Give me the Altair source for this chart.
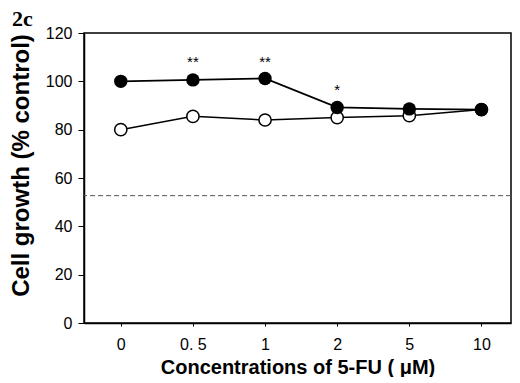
import json
import altair as alt
import pandas as pd

conc = ["0", "0. 5", "1", "2", "5", "10"]
filled_vals = [100.0, 100.6, 101.2, 89.2, 88.6, 88.3]
open_vals = [80.0, 85.5, 84.0, 85.0, 85.8, 88.3]
star_conc = ["0. 5", "1", "2"]
star_vals = [108.0, 108.0, 96.5]
star_text = ["**", "**", "*"]
ref_val = 52.7

idx = list(range(len(conc)))
filled_df = pd.DataFrame({"idx": idx, "conc": conc, "growth": filled_vals})
open_df = pd.DataFrame({"idx": idx, "conc": conc, "growth": open_vals})
star_df = pd.DataFrame({
    "idx": [conc.index(c) for c in star_conc],
    "conc": star_conc, "growth": star_vals, "label": star_text,
})
ref_df = pd.DataFrame({"growth": [ref_val]})

tick_font = "Liberation Sans Narrow, Liberation Sans, sans-serif"
yscale = alt.Scale(domain=[0, 120], nice=False)
xscale = alt.Scale(domain=[-0.51, len(conc) - 1 + 0.41], nice=False, zero=False)
label_expr = json.dumps(conc) + "[datum.value]"

x_enc = alt.X(
    "idx:Q",
    scale=xscale,
    axis=alt.Axis(
        title="Concentrations of 5-FU ( \u03bcM)",
        titleFont="Liberation Sans",
        titleFontSize=20,
        titleFontWeight="bold",
        titleColor="black",
        titlePadding=5,
        values=idx,
        labelExpr=label_expr,
        labelAngle=0,
        labelFont=tick_font,
        labelFontSize=16,
        labelColor="black",
        labelPadding=10,
        labelFlush=False,
        tickSize=3,
        tickColor="black",
        domainColor="black",
        domainWidth=1.5,
        grid=False,
    ),
)

y_enc = alt.Y(
    "growth:Q",
    scale=yscale,
    axis=alt.Axis(
        title="Cell growth (% control)",
        titleFont="Liberation Sans",
        titleFontSize=24,
        titleFontWeight="bold",
        titleColor="black",
        titleX=-63,
        titleY=132,
        titleBaseline="middle",
        values=list(range(0, 121, 10)),
        labelExpr="datum.value % 20 == 0 ? datum.label : ''",
        labelFont=tick_font,
        labelFontSize=16,
        labelColor="black",
        labelPadding=6,
        tickSize={"condition": {"test": "datum.value % 20 == 0", "value": 6}, "value": 3},
        tickColor="black",
        domainColor="black",
        domainWidth=1.5,
        grid=False,
    ),
)

ref_rule = alt.Chart(ref_df).mark_rule(
    color="#555555", strokeDash=[5, 3], strokeWidth=1
).encode(y=alt.Y("growth:Q", scale=yscale))

open_line = alt.Chart(open_df).mark_line(color="black", strokeWidth=1.5).encode(x=x_enc, y=y_enc)
filled_line = alt.Chart(filled_df).mark_line(color="black", strokeWidth=1.8).encode(x=x_enc, y=y_enc)
open_pts = alt.Chart(open_df).mark_point(
    shape="circle", size=150, filled=True, fill="white", stroke="black", strokeWidth=1.5, opacity=1
).encode(x=x_enc, y=y_enc)
filled_pts = alt.Chart(filled_df).mark_point(
    shape="circle", size=180, filled=True, color="black", opacity=1
).encode(x=x_enc, y=y_enc)
stars = alt.Chart(star_df).mark_text(
    fontSize=15, font="Liberation Sans", color="black", baseline="middle"
).encode(x=x_enc, y=y_enc, text="label:N")

chart = alt.layer(
    ref_rule, open_line, filled_line, open_pts, filled_pts, stars
).properties(
    width=427,
    height=290,
    padding={"left": 0, "top": 0, "right": 0, "bottom": 0},
    title=alt.TitleParams(
        "2c",
        anchor="start",
        frame="bounds",
        font="Liberation Serif",
        fontSize=22,
        fontWeight="bold",
        color="black",
        offset=-6,
        dx=3,
    ),
).configure_view(
    stroke="black", strokeWidth=1.5
)

chart.save("out.html", embed_options={"renderer": "svg", "actions": False})
